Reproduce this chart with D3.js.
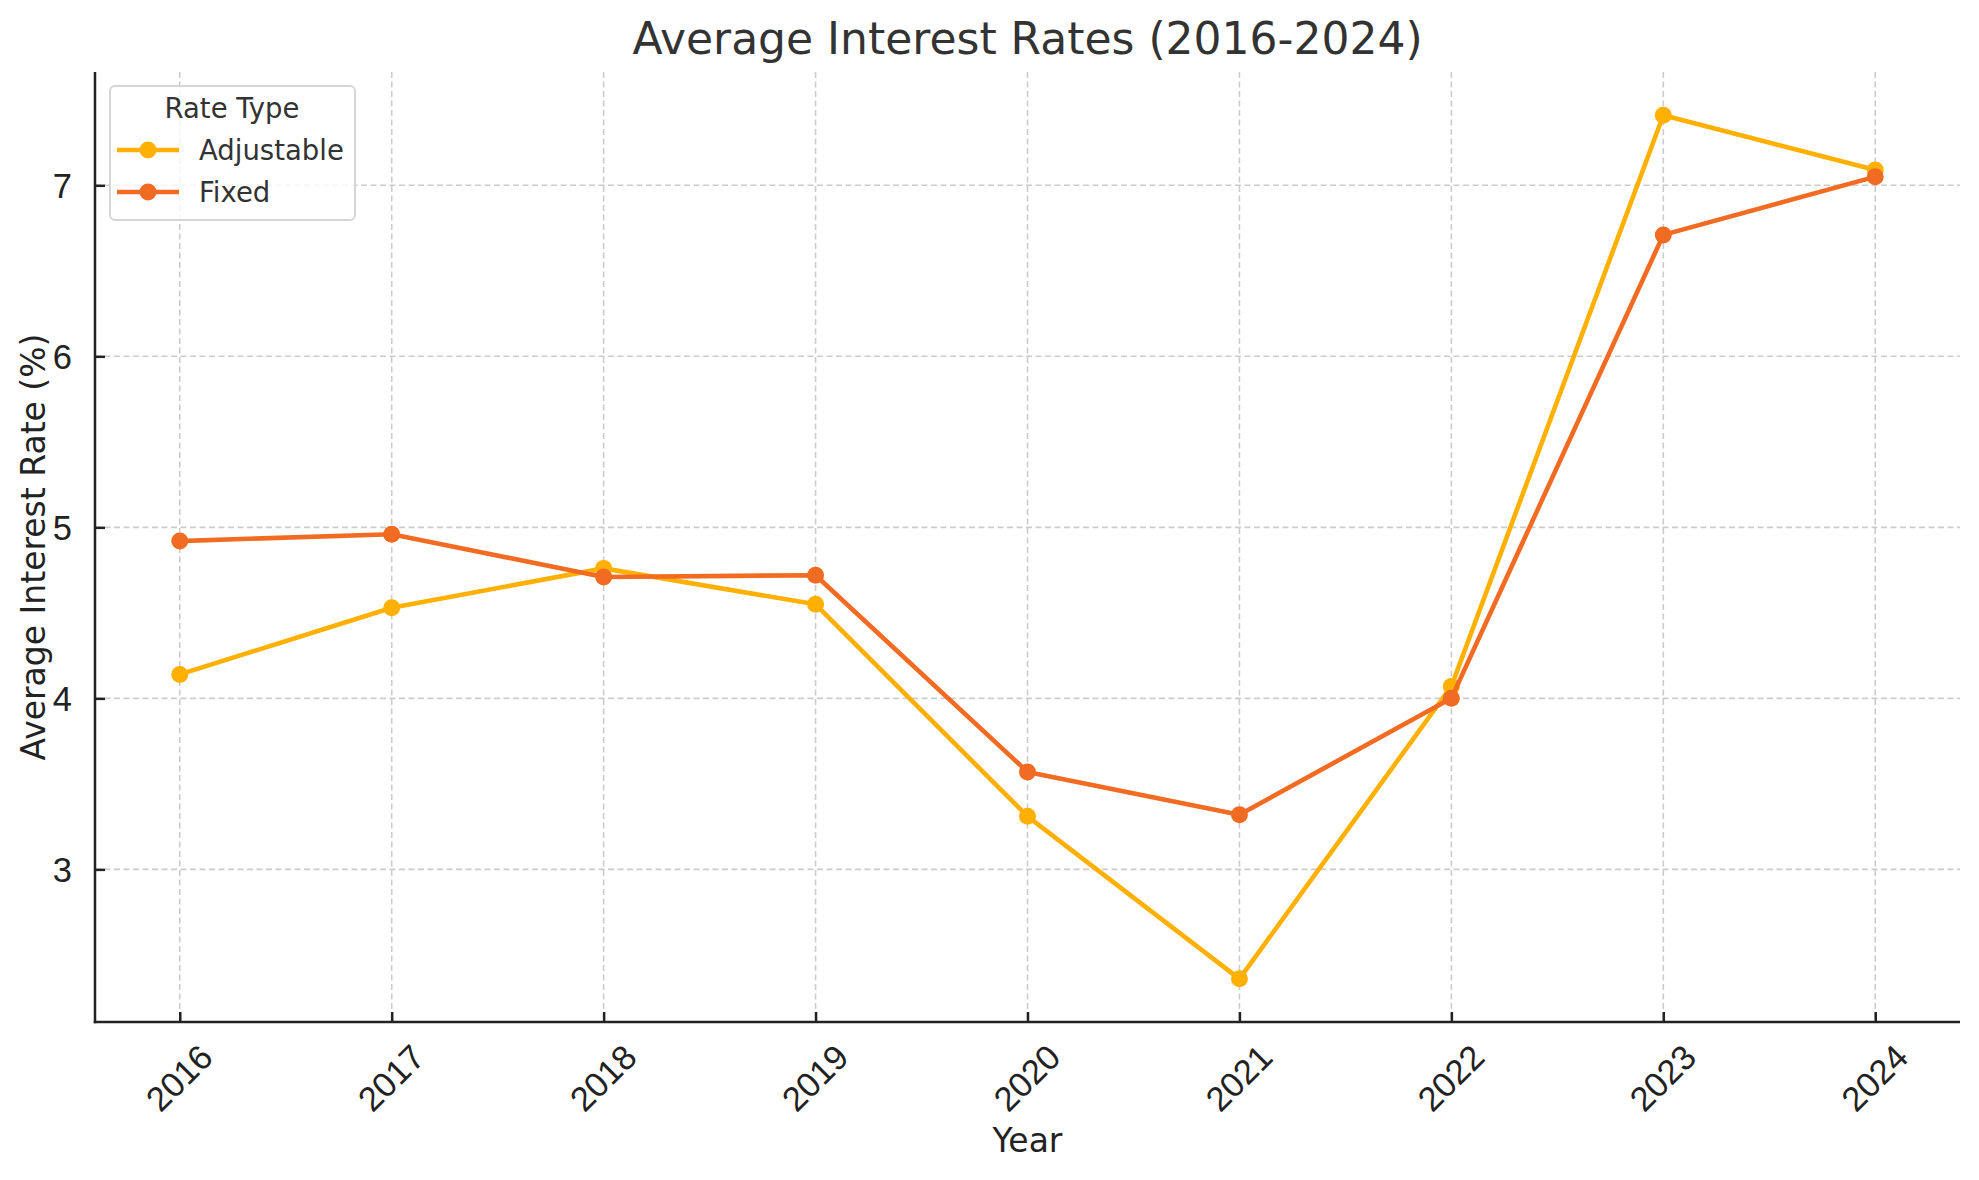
<!DOCTYPE html>
<html>
<head>
<meta charset="utf-8">
<script src="https://cdn.jsdelivr.net/npm/d3@7"></script>
<style>
  html, body { margin: 0; padding: 0; background: #fff; }
  svg { display: block; font-family: "DejaVu Sans", sans-serif; }
</style>
</head>
<body>
<svg id="chart" width="1979" height="1180"></svg>
<script>
const years = [2016, 2017, 2018, 2019, 2020, 2021, 2022, 2023, 2024];
const adjustable = [4.14, 4.53, 4.76, 4.55, 3.31, 2.36, 4.07, 7.41, 7.09];
const fixed = [4.92, 4.96, 4.71, 4.72, 3.57, 3.32, 4.00, 6.71, 7.05];
const yTicks = [3, 4, 5, 6, 7];
const seriesNames = ["Adjustable", "Fixed"];
const seriesColors = ["#FFB000", "#F26B23"];
const titleText = "Average Interest Rates (2016-2024)";
const xLabel = "Year";
const yLabel = "Average Interest Rate (%)";
const legendTitle = "Rate Type";

const W = 1979, H = 1180;
const m = { left: 95, right: 1960, top: 72, bottom: 1022 };
const svg = d3.select("#chart");

const allVals = adjustable.concat(fixed);
const yMin = d3.min(allVals), yMax = d3.max(allVals);
const yPad = (yMax - yMin) * 0.05;
const xPad = (years[years.length - 1] - years[0]) * 0.05;

const x = d3.scaleLinear()
  .domain([years[0] - xPad, years[years.length - 1] + xPad])
  .range([m.left, m.right]);
const y = d3.scaleLinear()
  .domain([yMin - yPad, yMax + yPad])
  .range([m.bottom, m.top]);

// grid
const grid = svg.append("g");
grid.selectAll("line.vg").data(years).join("line")
  .attr("x1", d => x(d)).attr("x2", d => x(d))
  .attr("y1", m.top).attr("y2", m.bottom)
  .attr("stroke", "#cccccc").attr("stroke-width", 1.6)
  .attr("stroke-dasharray", "6,3.5");
grid.selectAll("line.hg").data(yTicks).join("line")
  .attr("x1", m.left).attr("x2", m.right)
  .attr("y1", d => y(d)).attr("y2", d => y(d))
  .attr("stroke", "#cccccc").attr("stroke-width", 1.6)
  .attr("stroke-dasharray", "6,3.5");

// axes (ticks inward)
const xAxis = d3.axisBottom(x).tickValues(years).tickSize(-10).tickFormat(d3.format("d")).tickPadding(0);
const yAxis = d3.axisLeft(y).tickValues(yTicks).tickSize(-10).tickFormat(d3.format("d")).tickPadding(23);

const gx = svg.append("g").attr("transform", `translate(0,${m.bottom})`).call(xAxis);
gx.select(".domain").remove();
gx.selectAll(".tick line").attr("stroke", "#222").attr("stroke-width", 2.5);
gx.selectAll(".tick text")
  .attr("font-size", 34.5).attr("fill", "#222")
  .attr("text-anchor", "middle")
  .attr("dominant-baseline", "central")
  .attr("y", 0).attr("dy", 0)
  .attr("transform", "translate(-1,56) rotate(-45)");

const gy = svg.append("g").attr("transform", `translate(${m.left},0)`).call(yAxis);
gy.select(".domain").remove();
gy.selectAll(".tick line").attr("stroke", "#222").attr("stroke-width", 2.5);
gy.selectAll(".tick text").attr("font-size", 34.5).attr("fill", "#222").attr("dy", "0.36em");

// spines
svg.append("line").attr("x1", m.left).attr("x2", m.left).attr("y1", m.top).attr("y2", m.bottom + 1.25)
  .attr("stroke", "#222").attr("stroke-width", 2.5);
svg.append("line").attr("x1", m.left - 1.25).attr("x2", m.right).attr("y1", m.bottom).attr("y2", m.bottom)
  .attr("stroke", "#222").attr("stroke-width", 2.5);

// series
const series = [adjustable, fixed];
const line = d3.line().x((d, i) => x(years[i])).y(d => y(d));
series.forEach((vals, si) => {
  const g = svg.append("g");
  g.append("path").datum(vals).attr("d", line)
    .attr("fill", "none").attr("stroke", seriesColors[si])
    .attr("stroke-width", 4.6).attr("stroke-linejoin", "round").attr("stroke-linecap", "square");
  g.selectAll("circle").data(vals).join("circle")
    .attr("cx", (d, i) => x(years[i])).attr("cy", d => y(d)).attr("r", 8.5)
    .attr("fill", seriesColors[si]);
});

// title & labels
svg.append("text").attr("x", (m.left + m.right) / 2).attr("y", 54)
  .attr("text-anchor", "middle").attr("font-size", 44).attr("fill", "#333").text(titleText);
svg.append("text").attr("x", (m.left + m.right) / 2).attr("y", 1152)
  .attr("text-anchor", "middle").attr("font-size", 33).attr("fill", "#222").text(xLabel);
svg.append("text").attr("transform", `translate(45,${(m.top + m.bottom) / 2}) rotate(-90)`)
  .attr("text-anchor", "middle").attr("font-size", 33).attr("fill", "#222").text(yLabel);

// legend
const lg = svg.append("g");
lg.append("rect").attr("x", 110).attr("y", 86).attr("width", 245).attr("height", 134)
  .attr("rx", 5).attr("fill", "rgba(255,255,255,0.8)").attr("stroke", "#d6d6d6").attr("stroke-width", 2);
lg.append("text").attr("x", 232).attr("y", 118).attr("text-anchor", "middle")
  .attr("font-size", 27.5).attr("fill", "#333").text(legendTitle);
const rowsY = [150, 192];
seriesNames.forEach((name, i) => {
  lg.append("line").attr("x1", 117).attr("x2", 179).attr("y1", rowsY[i]).attr("y2", rowsY[i])
    .attr("stroke", seriesColors[i]).attr("stroke-width", 4.6);
  lg.append("circle").attr("cx", 148).attr("cy", rowsY[i]).attr("r", 8.5).attr("fill", seriesColors[i]);
  lg.append("text").attr("x", 199).attr("y", rowsY[i] + 10)
    .attr("font-size", 27.5).attr("fill", "#333").text(name);
});
</script>
</body>
</html>
